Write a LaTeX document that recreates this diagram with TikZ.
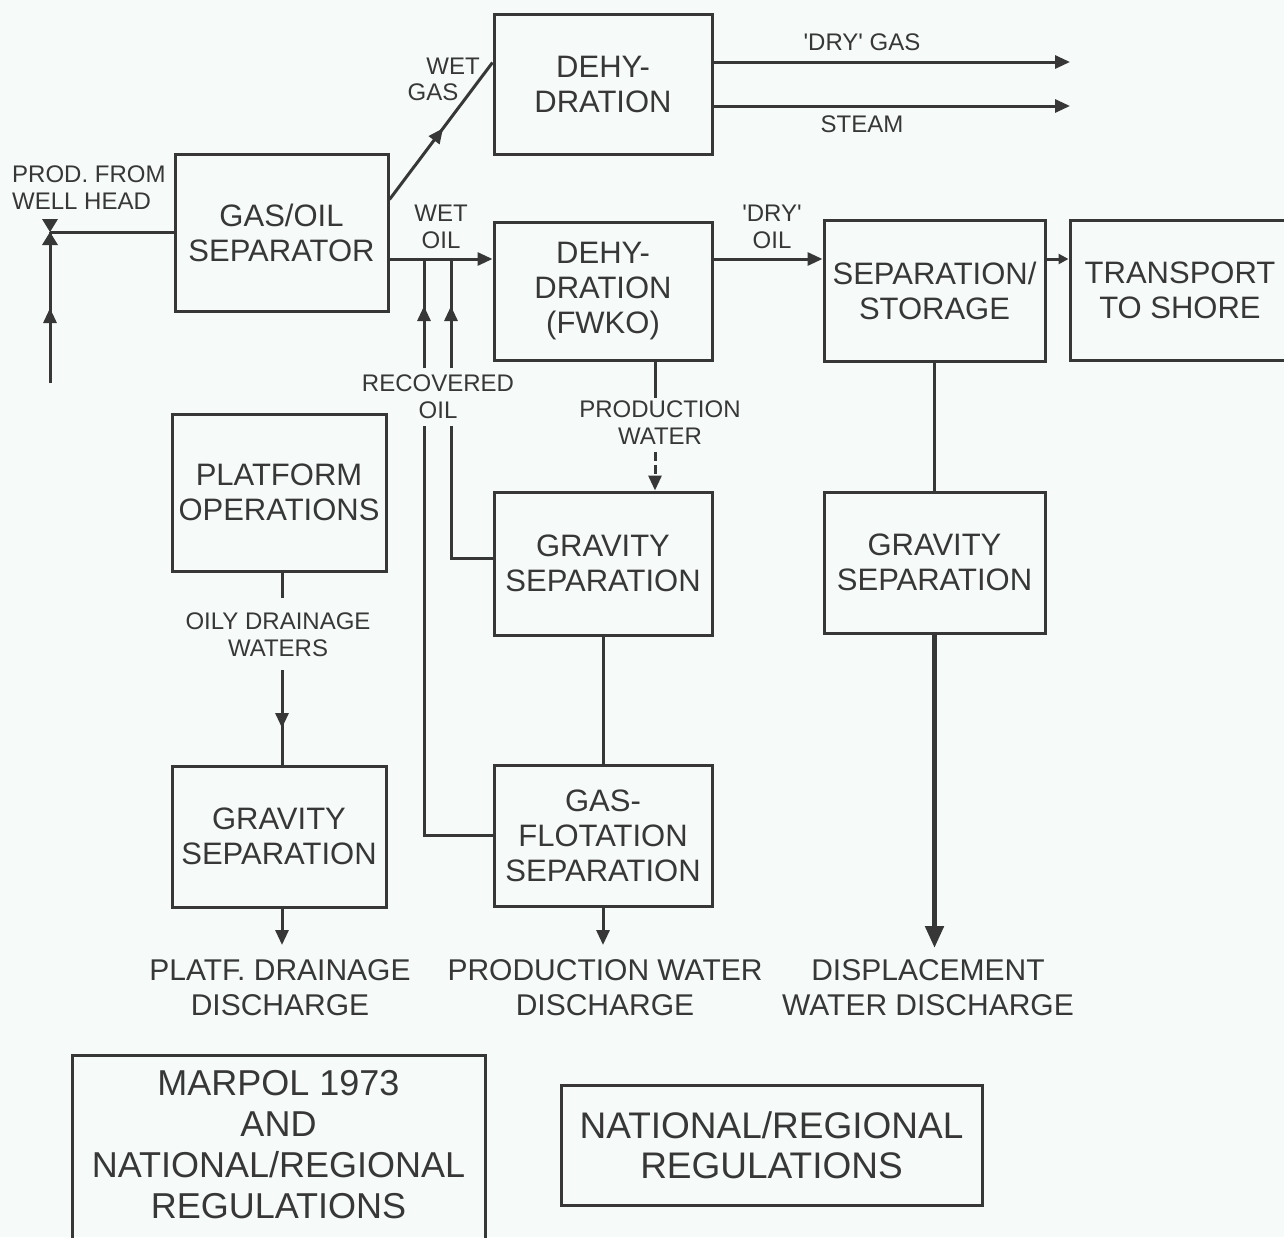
\documentclass[tikz,border=0pt]{standalone}
\usepackage{fontspec}
\setmainfont{Liberation Sans}
\usetikzlibrary{arrows.meta,decorations.markings}
\definecolor{bg}{RGB}{246,250,249}
\definecolor{ink}{RGB}{55,55,55}
\newcommand\boxfnt{\fontsize{31}{35}\selectfont}
\newcommand\lblfnt{\fontsize{24}{27}\selectfont}
\newcommand\disfnt{\fontsize{30}{35}\selectfont}
\newcommand\regfnt{\fontsize{36}{41}\selectfont}
\newcommand\natfnt{\fontsize{37}{40}\selectfont}
\begin{document}
\begin{tikzpicture}[x=1pt,y=-1pt,color=ink,
  box/.style={draw=ink,line width=3pt,rectangle,inner sep=0pt,align=center,text=ink,font=\boxfnt},
  lbl/.style={text=ink,align=center,font=\lblfnt,inner sep=1pt},
  dis/.style={text=ink,align=center,font=\disfnt,inner sep=1pt},
  reg/.style={text=ink,align=center,font=\regfnt,inner sep=1pt},
  conn/.style={draw=ink,line width=3pt},
  arr/.style={conn,-{Triangle[length=15pt,width=13pt]}},
  midarr/.style={postaction={decorate},decoration={markings,mark=at position #1 with {\arrow{Triangle[length=15pt,width=13pt]}}}}]
\useasboundingbox (0,0) rectangle (1284,1237);
\clip (0,0) rectangle (1284,1237);
\fill[bg] (0,0) rectangle (1284,1237);

% boxes
\node[box,minimum width=213pt,minimum height=157pt] (gos) at (281.5,232.5) {GAS/OIL\\SEPARATOR};
\node[box,minimum width=218pt,minimum height=140pt] (dehyg) at (603,84) {DEHY-\\DRATION};
\node[box,minimum width=218pt,minimum height=138pt] (dehyo) at (603,291) {DEHY-\\DRATION\\(FWKO)};
\node[box,minimum width=221pt,minimum height=141pt] (sepst) at (934.5,290.5) {SEPARATION/\\STORAGE};
\node[box,minimum width=220pt,minimum height=140pt] (trans) at (1180,290) {TRANSPORT\\TO SHORE};
\node[box,minimum width=214pt,minimum height=157pt] (plat) at (279,492.5) {PLATFORM\\OPERATIONS};
\node[box,minimum width=218pt,minimum height=143pt] (gravm) at (603,563.5) {GRAVITY\\SEPARATION};
\node[box,minimum width=221pt,minimum height=141pt] (gravr) at (934.5,562.5) {GRAVITY\\SEPARATION};
\node[box,minimum width=214pt,minimum height=141pt] (gravl) at (279,836.5) {GRAVITY\\SEPARATION};
\node[box,minimum width=218pt,minimum height=141pt] (flot) at (603,835.5) {GAS-\\FLOTATION\\SEPARATION};
\node[box,minimum width=413pt,minimum height=200pt] (marpol) at (278.5,1155) {};
\node[reg] (marpoltxt) at (278.5,1145) {MARPOL 1973\\AND\\NATIONAL/REGIONAL\\REGULATIONS};
\node[box,minimum width=421pt,minimum height=120pt,font=\natfnt] (natreg) at (771.5,1145) {NATIONAL/REGIONAL\\REGULATIONS};

% well head inlet
\coordinate (valve) at (50,232);
\coordinate (wellin) at (50,383);
\draw[conn,midarr=75pt] (wellin) -- (valve);
\draw[conn] (valve) -- (gos.west |- valve);
\fill[ink] (valve) ++(-8,-13) -- ++(16,0) -- (valve) -- cycle;
\fill[ink] (valve) ++(-8,13) -- ++(16,0) -- (valve) -- cycle;

% wet gas
\draw[conn,midarr=0.52] (gos.17) -- (dehyg.169);

% oil row
\coordinate (oilrow) at (440,259);
\draw[arr] (gos.east |- oilrow) -- (dehyo.west |- oilrow);
\draw[arr] (dehyo.east |- oilrow) -- (sepst.west |- oilrow);
\draw[conn,-{Triangle[length=10pt,width=10pt]}] (sepst.east |- oilrow) -- (trans.west |- oilrow);

% dry gas / steam
\coordinate (gasend) at (1070,62);
\coordinate (steamend) at (1070,106);
\draw[arr] (dehyg.east |- gasend) -- (gasend);
\draw[arr] (dehyg.east |- steamend) -- (steamend);

% recovered oil (lines broken by the label)
\coordinate (r1) at (424,835);
\coordinate (r2) at (451,558);
\coordinate (gaplo) at (0,426);
\coordinate (gaphi) at (0,368);
\draw[conn] (flot.west |- r1) -- (r1) -- (r1 |- gaplo);
\draw[conn,midarr=62pt] (r1 |- gaphi) -- (r1 |- oilrow);
\draw[conn] (gravm.west |- r2) -- (r2) -- (r2 |- gaplo);
\draw[conn,midarr=62pt] (r2 |- gaphi) -- (r2 |- oilrow);
\node[lbl] (recov) at (438,397) {RECOVERED\\OIL};

% production water
\coordinate (pw) at (655,0);
\coordinate (pwa) at (655,398);
\coordinate (pwb) at (655,452);
\draw[conn] (dehyo.south -| pw) -- (pwa);
\draw[arr,dash pattern=on 9pt off 4pt] (pwb) -- (gravm.north -| pw);
\node[lbl] (pwl) at (660,423) {PRODUCTION\\WATER};

% oily drainage
\coordinate (oda) at (282,598);
\coordinate (odb) at (282,670);
\draw[conn] (plat.south -| oda) -- (oda);
\draw[conn,midarr=58pt] (odb) -- (gravl.north -| odb);
\node[lbl] (odl) at (278,635) {OILY DRAINAGE\\WATERS};

% vertical links
\draw[conn] (gravm.south) -- (flot.north);
\draw[conn] (sepst.south) -- (gravr.north);
\coordinate (dispend) at (934.5,948);
\draw[conn,line width=5pt,-{Triangle[length=22pt,width=18pt]}] (gravr.south) -- (dispend);
\coordinate (pdend) at (282,945);
\draw[arr] (gravl.south -| pdend) -- (pdend);
\draw[arr] (flot.south) -- (flot.south |- pdend);

% labels
\node[lbl,align=left,anchor=west] (prod) at (11,188) {PROD. FROM\\WELL HEAD};
\node[lbl] (wg1) at (453,66) {WET};
\node[lbl] (wg2) at (433,92) {GAS};
\node[lbl] (wetoil) at (441,227) {WET\\OIL};
\node[lbl] (dryoil) at (772,227) {\textquotesingle DRY\textquotesingle\\OIL};
\node[lbl] (drygas) at (862,42) {\textquotesingle DRY\textquotesingle{} GAS};
\node[lbl] (steam) at (862,124) {STEAM};

\node[dis] (pdd) at (280,988) {PLATF. DRAINAGE\\DISCHARGE};
\node[dis] (pwd) at (605,988) {PRODUCTION WATER\\DISCHARGE};
\node[dis] (dwd) at (928,988) {DISPLACEMENT\\WATER DISCHARGE};
\end{tikzpicture}
\end{document}
